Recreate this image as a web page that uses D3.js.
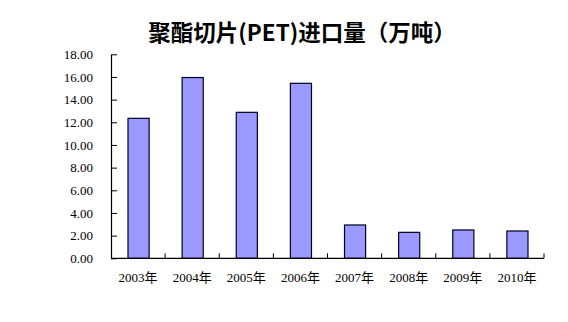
<!DOCTYPE html>
<html>
<head>
<meta charset="utf-8">
<script src="https://cdn.jsdelivr.net/npm/d3@7/dist/d3.min.js"></script>
<style>
  html, body { margin:0; padding:0; background:#fff; }
  svg { display:block; }
</style>
</head>
<body>
<svg id="chart"></svg>
<script>
// PET chip imports (10k tons) by year
const years = ['2003年','2004年','2005年','2006年','2007年','2008年','2009年','2010年'];
const imports = [12.35, 15.95, 12.88, 15.44, 2.94, 2.29, 2.50, 2.41];
const yTicks = [0, 2, 4, 6, 8, 10, 12, 14, 16, 18];
const titleText = '聚酯切片(PET)进口量（万吨）';

const W = 568, H = 322;
const plot = { left: 111, right: 544, top: 54.3, bottom: 258.3 };
const numFont = '"Liberation Serif", "DejaVu Serif", serif';
const cjkFont = '"Liberation Serif", "Noto Sans CJK SC", serif';

const svg = d3.select('#chart').attr('width', W).attr('height', H);
svg.append('rect').attr('width', W).attr('height', H).attr('fill', '#fff');

const x = d3.scaleBand().domain(years).range([plot.left, plot.right])
  .paddingInner(0.61).paddingOuter(0.305);
const y = d3.scaleLinear().domain([0, 18]).range([plot.bottom, plot.top]);

// title
svg.append('text')
  .attr('x', 302).attr('y', 41)
  .attr('text-anchor', 'middle')
  .attr('font-family', '"Noto Sans CJK SC", sans-serif')
  .attr('font-size', '22.5px').attr('font-weight', 'bold')
  .attr('fill', '#000')
  .text(titleText);

// bars
svg.append('g').selectAll('rect').data(years).enter().append('rect')
  .attr('x', d => x(d) + 0.5)
  .attr('y', (d, i) => y(imports[i]))
  .attr('width', x.bandwidth())
  .attr('height', (d, i) => y(0) - y(imports[i]))
  .attr('fill', '#9999ff')
  .attr('stroke', '#000022')
  .attr('stroke-width', 1.2);

// y axis (ticks point inward)
const yAxis = svg.append('g').attr('transform', `translate(${plot.left},0)`)
  .call(d3.axisLeft(y).tickValues(yTicks).tickFormat(d3.format('.2f')).tickSizeInner(-6).tickSizeOuter(0).tickPadding(18));
yAxis.select('.domain').attr('stroke', '#000').attr('stroke-width', 1.2);
yAxis.selectAll('.tick line').attr('stroke', '#000');
yAxis.selectAll('text').attr('font-family', numFont).attr('font-size', '13px').attr('fill', '#000');

// x axis: ticks at category boundaries, pointing up
const xAxis = svg.append('g').attr('transform', `translate(0,${plot.bottom})`);
xAxis.append('line').attr('x1', plot.left).attr('x2', plot.right).attr('stroke', '#000').attr('stroke-width', 1.2);
const bounds = years.map(d => x(d) - x.step() * x.paddingInner() / 2).concat([plot.right]);
xAxis.selectAll('line.tk').data(bounds.slice(1)).enter().append('line')
  .attr('class', 'tk')
  .attr('x1', d => d).attr('x2', d => d).attr('y1', 0).attr('y2', -5)
  .attr('stroke', '#000');
xAxis.selectAll('text').data(years).enter().append('text')
  .attr('x', d => x(d) + x.bandwidth() / 2)
  .attr('y', 24)
  .attr('text-anchor', 'middle')
  .attr('font-family', cjkFont).attr('font-size', '13px').attr('fill', '#000')
  .text(d => d);
</script>
</body>
</html>
